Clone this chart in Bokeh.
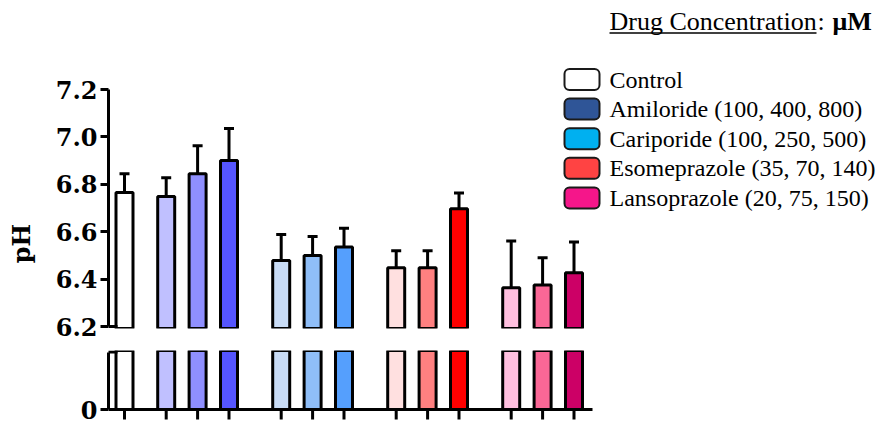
from bokeh.plotting import figure
from bokeh.layouts import column, row
from bokeh.models import Range1d, FixedTicker, PrintfTickFormatter, Arrow
from bokeh.core.properties import value
from bokeh.embed import file_html
from bokeh.resources import INLINE
import math

# ---------------- data ----------------
groups = ["Control", "Amiloride", "Cariporide", "Esomeprazole", "Lansoprazole"]

control_mean = [6.765]
control_err = [0.080]
amiloride_mean = [6.748, 6.845, 6.900]
amiloride_err = [0.080, 0.118, 0.135]
cariporide_mean = [6.478, 6.500, 6.535]
cariporide_err = [0.110, 0.080, 0.080]
esomeprazole_mean = [6.448, 6.448, 6.697]
esomeprazole_err = [0.072, 0.072, 0.066]
lansoprazole_mean = [6.363, 6.375, 6.427]
lansoprazole_err = [0.198, 0.115, 0.130]

control_colors = ["#FFFFFF"]
amiloride_colors = ["#C0C0FF", "#8F8FFF", "#5555FF"]
cariporide_colors = ["#C8DCF6", "#8FBEF8", "#559FFD"]
esomeprazole_colors = ["#FFE0E0", "#FF8080", "#FF0000"]
lansoprazole_colors = ["#FFBFDF", "#FA6796", "#CC0066"]

legend_labels = ["Control", "Amiloride (100, 400, 800)", "Cariporide (100, 250, 500)",
                 "Esomeprazole (35, 70, 140)", "Lansoprazole (20, 75, 150)"]
legend_colors = ["#FFFFFF", "#2F5597", "#00B0F0", "#FF4343", "#F5168A"]
legend_title = "Drug Concentration"
legend_unit = "μM"

y_ticks = [6.2, 6.4, 6.6, 6.8, 7.0, 7.2]
y_label = "pH"

# ---------------- layout constants ----------------
W = 888
TOTAL_H = 424
LABEL_W = 50
LEFT = 108                 # page x of the y axis
FRAME_W = W - LEFT
PPU = 237.0                # pixels per pH unit (upper panel)
H1 = 342
FRAME1_H = 328
H2 = TOTAL_H - H1
H2_TOP = 8
LPU = 59.0                 # pixels from lower-panel top to zero line
BAR_W = 17
STEP = 31.4
GROUP_STEP = 115.0
CONTROL_X = 16.0
FIRST_GROUP_X = 57.7
AXIS_END = 484
TICK_LEN = 10
FONT_AX = "DejaVu Serif"
FONT_LEG = "Liberation Serif"

# assemble bars
means = list(control_mean)
errs = list(control_err)
cols = list(control_colors)
xs = [CONTROL_X]
for g, (m, e, c) in enumerate([(amiloride_mean, amiloride_err, amiloride_colors),
                               (cariporide_mean, cariporide_err, cariporide_colors),
                               (esomeprazole_mean, esomeprazole_err, esomeprazole_colors),
                               (lansoprazole_mean, lansoprazole_err, lansoprazole_colors)]):
    for i in range(len(m)):
        xs.append(FIRST_GROUP_X + g * GROUP_STEP + i * STEP)
        means.append(m[i])
        errs.append(e[i])
        cols.append(c[i])
tops = [m + e for m, e in zip(means, errs)]


def style_axis(a):
    a.axis_line_width = 3
    a.major_tick_line_width = 3
    a.major_tick_out = 8
    a.major_tick_in = 0
    a.minor_tick_line_color = None
    a.major_label_standoff = 3
    a.major_label_text_font = FONT_AX
    a.major_label_text_font_style = "bold"
    a.major_label_text_font_size = "24px"
    a.major_label_text_color = "black"


# ---------------- y-axis title strip ----------------
lab = figure(width=LABEL_W, height=TOTAL_H, x_range=Range1d(0, LABEL_W),
             y_range=Range1d(TOTAL_H, 0), output_backend="svg", toolbar_location=None,
             x_axis_location=None, y_axis_location=None,
             min_border_left=0, min_border_right=0, min_border_top=0, min_border_bottom=0)
lab.outline_line_color = None
lab.grid.visible = False
lab.text(x=[21], y=[243], text=[y_label], angle=math.pi / 2, text_align="center",
         text_baseline="middle", text_font=value(FONT_AX), text_font_style="bold",
         text_font_size="24px", text_color="black")

# ---------------- upper panel ----------------
y0 = y_ticks[0] - 2 / PPU
y1 = y0 + FRAME1_H / PPU
up = figure(width=W - LABEL_W, height=H1, x_range=Range1d(0, FRAME_W), y_range=Range1d(y0, y1),
            output_backend="svg", toolbar_location=None, x_axis_location=None,
            min_border_left=LEFT - LABEL_W, min_border_right=0, min_border_top=0,
            min_border_bottom=H1 - FRAME1_H)
up.outline_line_color = None
up.grid.visible = False

up.segment(x0=xs, y0=means, x1=xs, y1=tops, line_color="black", line_width=3)
up.segment(x0=[x - 5 for x in xs], y0=tops, x1=[x + 5 for x in xs], y1=tops,
           line_color="black", line_width=3)
up.vbar(x=xs, width=BAR_W, bottom=y_ticks[0] - 0.3, top=means, fill_color=cols,
        line_color="black", line_width=3)
# axis-break mark
up.segment(x0=[0], y0=[y_ticks[0]], x1=[9], y1=[y_ticks[0]], line_color="black", line_width=3)

ax = up.yaxis[0]
ax.ticker = FixedTicker(ticks=y_ticks)
ax.formatter = PrintfTickFormatter(format="%.1f")
ax.bounds = (y_ticks[0], y_ticks[-1])
style_axis(ax)


def py_to_y(py):
    # page pixel row -> upper-panel data value
    return y1 - py / PPU


def px_to_x(px):
    return px - LEFT


# legend
n = len(legend_labels)
row_centers = [py_to_y(79 + 29.6 * i) for i in range(n)]
up.rect(x=[px_to_x(581.5)] * n, y=row_centers, width=35, height=21,
        width_units="screen", height_units="screen", fill_color=legend_colors,
        line_color="#1a1a1a", line_width=2, border_radius=5)
up.text(x=[px_to_x(609)] * n, y=row_centers, text=legend_labels, text_font=value(FONT_LEG),
        text_font_size="24px", text_baseline="alphabetic", text_align="left", text_color="black")

t_y = py_to_y(21)
up.text(x=[px_to_x(609)], y=[t_y], text=[legend_title], text_font=value(FONT_LEG),
        text_font_size="26px", text_baseline="alphabetic", text_align="left", text_color="black")
up.segment(x0=[px_to_x(609)], y0=[py_to_y(32.5)], x1=[px_to_x(816)], y1=[py_to_y(32.5)],
           line_color="black", line_width=1.5)
up.text(x=[px_to_x(817)], y=[t_y], text=[":"], text_font=value(FONT_LEG),
        text_font_size="26px", text_baseline="alphabetic", text_align="left", text_color="black")
up.text(x=[px_to_x(832)], y=[t_y], text=[legend_unit], text_font=value(FONT_LEG),
        text_font_size="26px", text_font_style="bold", text_baseline="alphabetic",
        text_align="left", text_color="black")

# ---------------- lower panel ----------------
frame2_h = H2 - H2_TOP
ly0 = -(frame2_h - LPU) / LPU
lo_top = 1 - 1.5 / LPU
lo = figure(width=W - LABEL_W, height=H2, x_range=up.x_range, y_range=Range1d(ly0, 1),
            output_backend="svg", toolbar_location=None, x_axis_location=None,
            min_border_left=LEFT - LABEL_W, min_border_right=0, min_border_top=H2_TOP,
            min_border_bottom=0)
lo.outline_line_color = None
lo.grid.visible = False
lo.vbar(x=xs, width=BAR_W, bottom=0, top=means, fill_color=cols,
        line_color="black", line_width=3)
# x axis line and ticks
lo.segment(x0=[0], y0=[0], x1=[AXIS_END], y1=[0], line_color="black", line_width=3)
lo.segment(x0=xs, y0=[0] * len(xs), x1=xs, y1=[-TICK_LEN / LPU] * len(xs),
           line_color="black", line_width=3)
# axis-break mark
lo.add_layout(Arrow(x_start=-8, y_start=lo_top, x_end=9, y_end=lo_top, start=None, end=None,
                    line_color="black", line_width=3))

la = lo.yaxis[0]
la.ticker = FixedTicker(ticks=[0])
la.bounds = (0, lo_top)
style_axis(la)

layout = row(lab, column(up, lo, spacing=0), spacing=0)
open("out.html", "w").write(file_html(layout, INLINE))
